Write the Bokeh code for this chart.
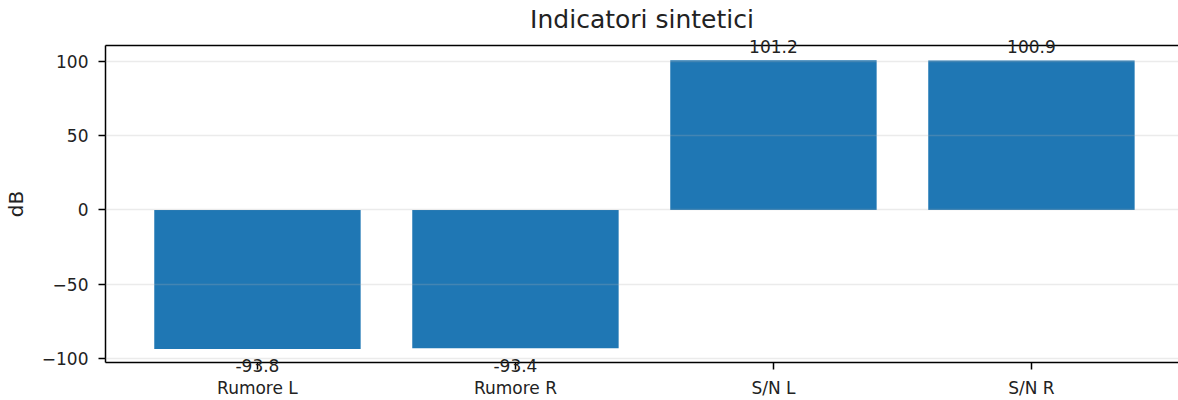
from bokeh.plotting import figure
from bokeh.models import (ColumnDataSource, FixedTicker, Range1d, LinearAxis)
from bokeh.embed import file_html
from bokeh.resources import INLINE

categories = ["Rumore L", "Rumore R", "S/N L", "S/N R"]
values = [-93.8, -93.4, 101.2, 100.9]
y_ticks = [-100, -50, 0, 50, 100]
title_text = "Indicatori sintetici"
y_label = "dB"

FONT = "DejaVu Sans"
TXT = "#222222"

xs = list(range(len(categories)))
src = ColumnDataSource(dict(x=xs, top=values, cat=categories))

p = figure(width=1178, height=400, output_backend="svg", toolbar_location=None,
           x_range=Range1d(-0.589, 3.57), y_range=Range1d(-103.0, 111.1),
           min_border_left=105, min_border_right=0, min_border_bottom=37, min_border_top=45)

p.vbar(x="x", top="top", bottom=0, width=0.8, source=src, color="#1f77b4", line_color=None)

p.outline_line_color = None
p.xgrid.visible = False
p.ygrid.ticker = FixedTicker(ticks=y_ticks)
p.ygrid.grid_line_color = "#b0b0b0"
p.ygrid.grid_line_alpha = 0.25
p.ygrid.grid_line_width = 1.5
p.ygrid.level = "overlay"

# value labels of negative bars sit just under the bottom spine, above the category name
neg_txt = {x: "%.1f" % v for x, v in zip(xs, values) if v < 0}
p.xaxis.ticker = FixedTicker(ticks=xs)
p.xaxis.major_label_overrides = {i: neg_txt.get(i, "") + "\n" + c for i, c in zip(xs, categories)}
p.yaxis.ticker = FixedTicker(ticks=y_ticks)
p.yaxis.major_label_overrides = {t: (str(t).replace("-", "\u2212")) for t in y_ticks}
for ax in (p.xaxis, p.yaxis):
    ax.axis_line_color = "black"
    ax.axis_line_width = 1.5
    ax.major_tick_line_color = "black"
    ax.major_tick_line_width = 1.5
    ax.major_tick_out = 7
    ax.major_tick_in = 0
    ax.minor_tick_line_color = None
    ax.major_label_text_font = FONT
    ax.major_label_text_font_size = "17px"
    ax.major_label_text_color = TXT
p.xaxis.major_label_text_line_height = 1.1
p.xaxis.major_label_standoff = -14
p.yaxis.major_label_standoff = 10
p.yaxis.axis_label = y_label
p.yaxis.axis_label_text_font = FONT
p.yaxis.axis_label_text_font_size = "20px"
p.yaxis.axis_label_text_font_style = "normal"
p.yaxis.axis_label_text_color = TXT
p.yaxis.axis_label_standoff = 11

# top spine, carrying the value labels of the positive bars
pos_txt = {x: "%.1f" % v for x, v in zip(xs, values) if v >= 0}
top_ax = LinearAxis(ticker=FixedTicker(ticks=list(pos_txt.keys())),
                    major_label_overrides=pos_txt)
top_ax.axis_line_color = "black"
top_ax.axis_line_width = 1.5
top_ax.major_tick_line_color = None
top_ax.minor_tick_line_color = None
top_ax.major_label_text_font = FONT
top_ax.major_label_text_font_size = "17px"
top_ax.major_label_text_color = TXT
top_ax.major_label_standoff = -13
p.add_layout(top_ax, "above")

# title
p.title.text = title_text
p.title.align = "center"
p.title.text_font = FONT
p.title.text_font_size = "25px"
p.title.text_font_style = "normal"
p.title.text_color = TXT
p.title.standoff = 5
p.title.offset = 4

open("out.html", "w").write(file_html(p, INLINE))
